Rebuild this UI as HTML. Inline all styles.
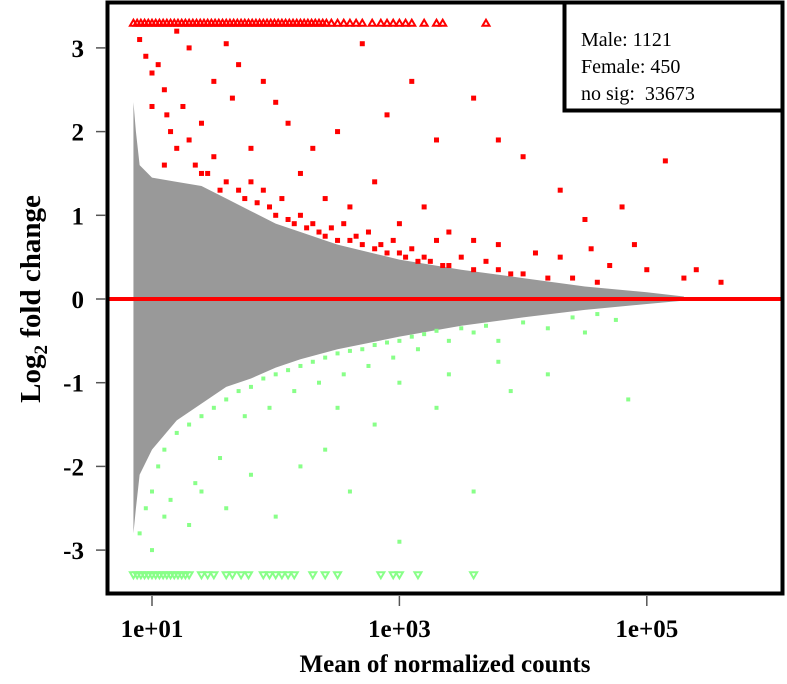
<!DOCTYPE html>
<html><head><meta charset="utf-8"><style>
html,body{margin:0;padding:0;background:#fff;width:787px;height:684px;overflow:hidden}
svg{display:block;font-family:"Liberation Serif",serif}
</style></head><body>
<svg id="chart" width="787" height="684" viewBox="0 0 787 684">
<g id="plot"></g>
<rect x="107.5" y="2.5" width="675" height="591" fill="none" stroke="#000" stroke-width="4"/>
<g id="axes"></g>
<text transform="translate(40,299) rotate(-90)" text-anchor="middle" font-size="29" font-weight="bold">Log<tspan font-size="19" dy="7">2</tspan><tspan dy="-7"> fold change</tspan></text>
<text x="445" y="672" text-anchor="middle" font-size="25" font-weight="bold">Mean of normalized counts</text>
<g>
<rect x="564.5" y="2.5" width="218" height="108" fill="#fff" stroke="#000" stroke-width="4"/>
<text x="581" y="46" font-size="20">Male: 1121</text>
<text x="581" y="73" font-size="20">Female: 450</text>
<text x="581" y="100" font-size="20" xml:space="preserve">no sig:  33673</text>
</g>
</svg>
<script>
const NS="http://www.w3.org/2000/svg";
// envelope of the non-significant (grey) cloud: log10(mean), upper LFC, lower LFC
const greyLog=[0.85,0.87,0.9,1.0,1.2,1.4,1.6,1.8,2.0,2.2,2.5,3.0,3.5,4.0,4.5,5.0,5.3];
const greyUpper=[2.35,2.0,1.6,1.45,1.4,1.35,1.2,1.05,0.9,0.8,0.65,0.47,0.35,0.25,0.15,0.08,0.03];
const greyLower=[-2.8,-2.5,-2.1,-1.8,-1.45,-1.25,-1.05,-0.95,-0.82,-0.72,-0.6,-0.45,-0.32,-0.22,-0.13,-0.06,-0.02];
// significant up (male)
const upLog=[0.9,0.95,1.0,1.05,1.1,1.12,1.15,1.2,1.25,1.3,1.35,1.4,1.45,1.5,1.55,1.6,1.65,1.7,1.75,1.8,1.85,1.9,1.95,2.0,2.05,2.1,2.15,2.2,2.25,2.3,2.35,2.4,2.45,2.5,2.55,2.6,2.65,2.7,2.75,2.8,2.85,2.9,2.95,3.0,3.05,3.1,3.15,3.2,3.25,3.3,3.35,3.4,3.5,3.6,3.7,3.8,3.9,4.0,4.2,4.4,4.6,5.3,5.6,1.3,1.5,1.6,1.7,1.9,2.0,2.1,2.3,2.5,2.7,2.9,3.1,3.3,3.6,3.8,4.0,4.3,4.5,4.8,4.9,5.15,1.2,1.0,1.1,1.4,1.8,2.2,2.4,2.6,2.8,3.0,3.2,3.4,3.6,3.8,4.1,4.3,4.55,4.7,5.0,5.4];
const upLfc=[3.1,2.9,2.7,2.8,2.5,2.2,2.0,1.8,2.3,1.9,1.6,2.1,1.5,1.7,1.3,1.4,2.4,1.3,1.2,1.4,1.15,1.3,1.1,1.0,1.2,0.95,0.9,1.0,0.85,0.9,0.8,0.75,0.85,0.7,0.9,0.7,0.75,0.65,0.8,0.6,0.65,0.55,0.7,0.55,0.5,0.6,0.45,0.5,0.45,0.7,0.4,0.4,0.5,0.35,0.45,0.35,0.3,0.3,0.25,0.25,0.2,0.25,0.2,3.0,2.6,3.05,2.8,2.6,2.35,2.1,1.8,2.0,3.05,2.2,2.6,1.9,2.4,1.9,1.7,1.3,0.95,1.1,0.65,1.65,3.2,2.3,1.6,1.5,1.8,1.5,1.2,1.1,1.4,0.9,1.1,0.8,0.7,0.65,0.55,0.5,0.6,0.4,0.35,0.35];
// significant down (female)
const downLog=[0.9,0.95,1.0,1.05,1.1,1.15,1.2,1.3,1.35,1.4,1.5,1.55,1.6,1.7,1.75,1.8,1.9,1.95,2.0,2.1,2.15,2.2,2.3,2.35,2.4,2.5,2.55,2.6,2.7,2.75,2.8,2.9,2.95,3.0,3.1,3.15,3.2,3.3,3.4,3.5,3.6,3.7,3.8,4.0,4.2,4.4,4.6,4.75,4.85,1.0,1.1,1.3,1.4,1.6,1.8,2.0,2.2,2.4,2.6,2.8,3.0,3.3,3.6,3.9,4.2,2.5,3.0,3.4,3.8,4.5];
const downLfc=[-2.8,-2.5,-2.3,-2.0,-1.8,-2.4,-1.6,-1.5,-2.2,-1.4,-1.3,-1.9,-1.2,-1.1,-1.4,-1.05,-0.95,-1.3,-0.9,-0.85,-1.1,-0.8,-0.75,-1.0,-0.7,-0.65,-0.9,-0.62,-0.6,-0.8,-0.55,-0.52,-0.7,-0.5,-0.45,-0.6,-0.42,-0.38,-0.5,-0.35,-0.4,-0.32,-0.5,-0.28,-0.35,-0.22,-0.18,-0.25,-1.2,-3.0,-2.6,-2.7,-2.3,-2.5,-2.1,-2.6,-2.0,-1.8,-2.3,-1.5,-2.9,-1.3,-2.3,-1.1,-0.9,-1.3,-1.0,-0.9,-0.75,-0.4];
// out-of-range points clipped to the plot border (triangles)
const ceilLog=[0.85,0.88,0.91,0.94,0.97,1.0,1.03,1.06,1.09,1.12,1.15,1.18,1.21,1.24,1.27,1.3,1.33,1.36,1.39,1.42,1.45,1.48,1.51,1.54,1.57,1.6,1.63,1.66,1.69,1.72,1.75,1.78,1.81,1.84,1.87,1.9,1.93,1.96,1.99,2.02,2.05,2.08,2.11,2.14,2.17,2.2,2.23,2.26,2.29,2.32,2.35,2.38,2.41,2.45,2.5,2.55,2.6,2.65,2.7,2.78,2.85,2.9,2.95,3.0,3.05,3.1,3.2,3.3,3.35,3.7];
const floorLog=[0.85,0.88,0.91,0.94,0.97,1.0,1.03,1.06,1.09,1.12,1.15,1.18,1.21,1.24,1.27,1.3,1.4,1.45,1.5,1.6,1.65,1.72,1.78,1.9,1.95,2.0,2.05,2.1,2.15,2.3,2.4,2.5,2.85,2.95,3.0,3.15,3.6];
const ceilVal=3.3, floorVal=-3.3;
const xTicks=[1,3,5], xTickLabels=["1e+01","1e+03","1e+05"];
const yTicks=[-3,-2,-1,0,1,2,3];

const X=l=>152+(l-1)*123.7;
const Y=v=>299-v*83.7;
const plot=document.getElementById('plot'), axes=document.getElementById('axes');
function mk(tag,attrs,parent){const e=document.createElementNS(NS,tag);for(const k in attrs)e.setAttribute(k,attrs[k]);parent.appendChild(e);return e;}

let d="M"+X(greyLog[0])+","+Y(greyUpper[0]);
for(let i=1;i<greyLog.length;i++)d+=" L"+X(greyLog[i])+","+Y(greyUpper[i]);
for(let i=greyLog.length-1;i>=0;i--)d+=" L"+X(greyLog[i])+","+Y(greyLower[i]);
const cloud=mk('path',{d:d+"Z",fill:"#999"},plot);



upLog.forEach((l,i)=>{const r=mk('rect',{x:X(l)-2.5,y:Y(upLfc[i])-2.5,width:5,height:5,fill:"#f00"},plot);

});
downLog.forEach((l,i)=>{const r=mk('rect',{x:X(l)-2,y:Y(downLfc[i])-2,width:4,height:4,fill:"#8f8"},plot);

});
ceilLog.forEach(l=>{const x=X(l),y=Y(ceilVal);const t=mk('polygon',{points:`${x-3.5},${y+3} ${x+3.5},${y+3} ${x},${y-3}`,fill:"none",stroke:"#f00","stroke-width":2},plot);

});
floorLog.forEach(l=>{const x=X(l),y=Y(floorVal);const t=mk('polygon',{points:`${x-3.5},${y-3} ${x+3.5},${y-3} ${x},${y+3}`,fill:"none",stroke:"#8f8","stroke-width":2},plot);

});
const zl=mk('line',{x1:108,x2:783,y1:Y(0),y2:Y(0),stroke:"#f00","stroke-width":4},plot);



yTicks.forEach(v=>{const t=mk('line',{x1:96,x2:106,y1:Y(v),y2:Y(v),stroke:"#555","stroke-width":1.5},axes);


const tx=mk('text',{x:84,y:Y(v)+9,"text-anchor":"end","font-size":25,"font-weight":"bold"},axes);tx.textContent=String(v);

});
xTicks.forEach((l,i)=>{const t=mk('line',{x1:X(l),x2:X(l),y1:596,y2:606,stroke:"#555","stroke-width":1.5},axes);


const tx=mk('text',{x:X(l),y:637,"text-anchor":"middle","font-size":25,"font-weight":"bold"},axes);tx.textContent=xTickLabels[i];

});
</script>
</body></html>
